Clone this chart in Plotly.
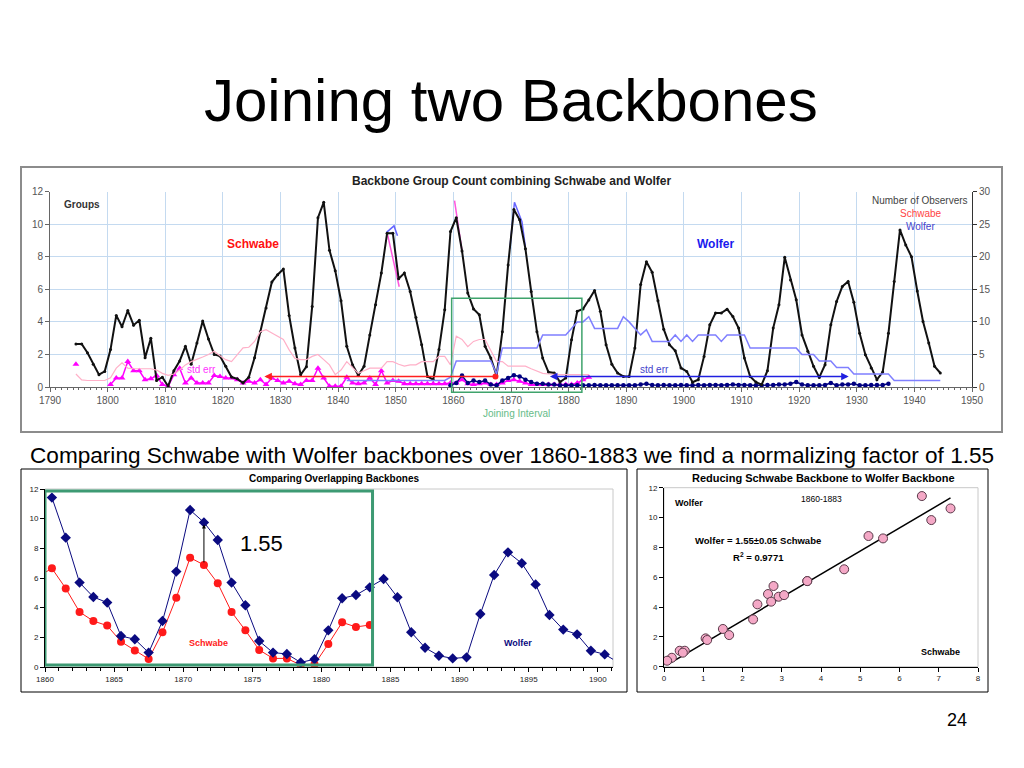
import plotly.graph_objects as go

# page body has an 8px margin; the figure is sized to fit the remaining window
OFF = 8
W, H = 1024 - OFF, 768 - OFF
def fx(p):
    return (p - OFF) / W
def fy(p):
    return 1 - (p - OFF) / H

FONT = "Arial, Liberation Sans, Helvetica, sans-serif"

# ---------------- top chart data ----------------
bb_years = list(range(1794, 1945))
bb_groups = [
    2.64, 2.64, 2.1, 1.4, 0.76, 0.96,
    2.3, 4.4, 3.7, 4.7, 3.8, 4.1, 1.8, 3.0, 0.4, 0.6,
    0.05, 1.0, 1.6, 2.5, 1.4, 2.7, 4.05, 2.95, 2.0, 1.9,
    1.27, 0.61, 0.5, 0.25, 0.6, 1.8, 3.4, 4.85, 6.45, 6.9,
    7.25, 4.4, 2.4, 0.75, 1.25, 4.95, 10.4, 11.35, 8.4, 7.15,
    5.3, 2.5, 1.37, 0.72, 1.27, 3.2, 5.05, 7.0, 9.45, 9.45,
    6.65, 7.0, 5.87, 4.27, 2.6, 0.65, 0.45, 2.3, 4.75, 9.55,
    10.4, 8.36, 5.77, 4.8, 4.44, 2.5, 1.78, 0.7, 3.4, 7.5,
    10.9, 10.27, 8.5, 5.87, 3.4, 1.78, 0.92, 0.86, 0.3, 0.55,
    2.9, 4.65, 4.8, 5.35, 5.93, 4.65, 2.6, 1.4, 0.86, 0.65,
    0.65, 2.4, 6.3, 7.7, 7.05, 5.3, 3.55, 2.6, 2.23, 1.17,
    0.96, 0.29, 0.45, 1.88, 3.82, 4.54, 4.54, 4.78, 4.33, 3.62,
    1.78, 0.65, 0.3, 0.14, 1.0, 3.62, 5.05, 7.97, 6.58, 5.36,
    3.2, 2.19, 1.27, 0.59, 1.37, 3.82, 5.25, 6.18, 6.48, 5.2,
    3.3, 1.98, 1.17, 0.45, 0.92, 3.3, 6.48, 9.65, 8.73, 8.0,
    5.9, 4.03, 2.7, 1.27, 0.86,
]

schwabe_years = list(range(1794, 1884))
schwabe_stderr = [
    1.4, None, None, None, None, None,
    0.15, 0.55, 0.55, 1.57, 1.0, 1.0, 0.45, 0.5, 0.7, 0.15,
    0.04, 0.75, 1.15, 0.25, 0.55, 0.25, 0.25, 0.25, 0.7, 0.65,
    0.55, 0.55, 0.45, 0.25, 0.35, 0.25, 0.45, 0.15, 0.55, 0.4,
    0.25, 0.35, 0.2, 0.15, 0.4, 0.4, 1.15, 0.55, 0.05, 0.05,
    0.05, 0.6, 0.25, 0.2, 0.25, 0.55, 0.15, 1.0, 0.25, 0.4,
    0.35, 0.2, 0.2, 0.2, 0.2, 0.2, 0.2, 0.2, 0.2, 0.25,
    0.25, 0.45, 0.2, 0.15, 0.2, 0.25, 0.15, 0.15, 0.25, 0.4,
    0.45, 0.35, 0.25, 0.15, 0.15, 0.15, 0.15, 0.15, 0.15, 0.15,
    0.15, 0.25, 0.45, 0.6,
]
schwabe_observers = [
    2.0, 1.1, 1.0, 1.0, 1.0, 1.0,
    1.4, 2.9, 3.7, 2.9, 2.8, 2.8, 2.8, 2.8, 2.6, 2.1,
    1.8, 2.0, 2.6, 3.4, 3.9, 4.2, 4.6, 5.0, 5.5, 4.8,
    4.2, 3.9, 5.0, 6.0, 6.1, 7.0, 8.5, 8.8, 8.3, 7.8,
    7.3, 5.7, 4.4, 4.2, 4.2, 4.7, 5.0, 4.2, 3.4, 1.9,
    2.6, 3.9, 3.0, 2.1, 2.5, 2.9, 2.9, 2.9, 3.9, 3.9,
    3.5, 3.2, 3.4, 3.4, 3.9, 3.9, 3.9, 4.7, 4.7, 3.4,
    7.8, 7.3, 6.2, 7.0, 7.3, 7.3, 5.5, 3.9, 3.9, 3.2,
    3.2, 3.2, 3.2, 2.8, 2.4, 2.1, 2.0, 1.9, 1.9, 1.9,
    1.9, 1.9, 1.9, 1.9,
]

wolfer_err_years = list(range(1859, 1936))
wolfer_stderr = [
    0.1, 0.25, 0.7, 0.25, 0.4, 0.3, 0.4, 0.15, 0.1, 0.4, 0.55,
    0.72, 0.65, 0.45, 0.3, 0.2, 0.2, 0.15, 0.15, 0.1, 0.1,
    0.1, 0.1, 0.1, 0.1, 0.12, 0.1, 0.1, 0.1, 0.1, 0.1,
    0.1, 0.1, 0.15, 0.2, 0.12, 0.1, 0.12, 0.1, 0.1, 0.12,
    0.1, 0.1, 0.12, 0.1, 0.12, 0.12, 0.1, 0.12, 0.15, 0.12,
    0.12, 0.1, 0.1, 0.1, 0.12, 0.12, 0.15, 0.15, 0.2, 0.3,
    0.15, 0.1, 0.1, 0.1, 0.12, 0.25, 0.1, 0.15, 0.15, 0.2,
    0.1, 0.1, 0.12, 0.12, 0.12, 0.2,
]

wolfer_obs_years = list(range(1841, 1945))
wolfer_observers = [
    1, 1, 1, 1, 1, 1, 1, 1, 1,
    1, 1, 1, 1, 1, 1, 1, 1, 1, 1.5,
    4, 4, 4, 4, 4, 4, 4, 2, 6, 6,
    6, 6, 6, 6, 6, 8, 8, 8, 8, 8,
    9, 10, 10, 10.8, 9, 9, 9, 9, 9, 10.8,
    10, 9, 8, 8.8, 7, 7, 7, 7, 8, 7,
    8, 7, 8, 8, 8, 8, 7, 8, 8, 8,
    8, 6, 6, 6, 6, 6, 6, 6, 6, 6,
    5, 5, 5, 4, 4, 4, 3, 3, 3, 2,
    2, 2, 2, 2, 2, 2, 1, 1, 1, 1,
    1, 1, 1, 1, 1,
]

# short peak segments of the separate backbones
schwabe_peak_x = [1848.6, 1850.6, None, 1860.2, 1860.6, 1861.5]
schwabe_peak_y = [9.33, 6.16, None, 11.45, 10.5, 8.36]
wolfer_peak_x = [1848.4, 1849.7, 1850.3, None, 1869.8, 1870.6, 1871.9, 1872.5]
wolfer_peak_y = [9.5, 9.9, 9.3, None, 8.5, 11.35, 10.15, 8.6]

schwabe_span = [1827.2, 1867.3]
wolfer_span = [1876.5, 1928.6]
span_level = 0.65
joining_x = [1859.7, 1882.3]
joining_y = [-0.33, 5.46]
top_ymax = 12
top_y2max = 30

# ---------------- bottom-left data ----------------
cmp_w_years = list(range(1860, 1902))
cmp_wolfer = [
    11.42, 8.72, 5.69, 4.72, 4.34, 2.09, 1.87, 0.97, 3.1, 6.43,
    10.58, 9.75, 8.56, 5.69, 4.16, 1.75, 0.97, 0.88, 0.31, 0.52,
    2.47, 4.63, 4.85, 5.37, 5.93, 4.70, 2.34, 1.30, 0.76, 0.58,
    0.65, 3.57, 6.2, 7.73, 6.99, 5.57, 3.51, 2.52, 2.2, 1.1,
    0.85, 0.3,
]
cmp_s_years = list(range(1859, 1884))
cmp_schwabe = [
    6.1, 6.65, 5.3, 3.71, 3.1, 2.79, 1.71, 1.12, 0.54, 2.34, 4.67,
    7.37, 6.88, 5.64, 3.71, 2.47, 1.15, 0.58, 0.58, 0.13, 0.18,
    1.55, 3.01, 2.7, 2.83,
]
overlap_box_x = [1860.0, 1883.7]
overlap_box_y = [0.13, 11.87]
factor_arrow_x = 1871.5
factor_arrow_y = [6.95, 9.6]

# ---------------- bottom-right data ----------------
sc_schwabe = [6.57, 7.3, 6.81, 5.21, 5.58, 4.59, 3.65, 3.65, 2.79, 2.65, 2.92, 3.06,
              2.73, 2.38, 2.27, 1.5, 1.66, 1.06, 1.1, 0.4, 0.53, 0.48, 0.2, 0.08]
sc_wolfer = [11.44, 10.61, 9.83, 8.76, 8.6, 6.53, 5.74, 5.74, 5.41, 4.87, 4.69, 4.8,
             4.36, 4.18, 3.17, 2.53, 2.12, 1.9, 1.79, 1.07, 1.07, 0.94, 0.6, 0.4]
fit_slope = 1.55
fit_x = [0.1, 7.3]

mid = lambda ys: [y + 0.5 for y in ys]

fig = go.Figure()

# ---- top chart traces ----
fig.add_trace(go.Scatter(x=mid(schwabe_years), y=schwabe_observers, xaxis="x", yaxis="y2",
                         mode="lines", line=dict(color="#ffb0c8", width=1.2), hoverinfo="skip"))
fig.add_trace(go.Scatter(x=mid(wolfer_obs_years), y=wolfer_observers, xaxis="x", yaxis="y2",
                         mode="lines", line=dict(color="#7f7fff", width=1.5), hoverinfo="skip"))
fig.add_trace(go.Scatter(x=mid(schwabe_years), y=schwabe_stderr, xaxis="x", yaxis="y",
                         mode="lines+markers", connectgaps=False,
                         line=dict(color="#ff00ff", width=1.5),
                         marker=dict(symbol="triangle-up", size=6, color="#ff00ff")))
fig.add_trace(go.Scatter(x=mid(wolfer_err_years), y=wolfer_stderr, xaxis="x", yaxis="y",
                         mode="lines+markers", line=dict(color="#000080", width=1.5),
                         marker=dict(symbol="circle", size=4.5, color="#000080")))
fig.add_trace(go.Scatter(x=schwabe_peak_x, y=schwabe_peak_y, xaxis="x", yaxis="y",
                         mode="lines", line=dict(color="#ff55dd", width=1.5)))
fig.add_trace(go.Scatter(x=wolfer_peak_x, y=wolfer_peak_y, xaxis="x", yaxis="y",
                         mode="lines", line=dict(color="#6666ff", width=1.5)))
fig.add_trace(go.Scatter(x=mid(bb_years), y=bb_groups, xaxis="x", yaxis="y",
                         mode="lines+markers", line=dict(color="#111111", width=2),
                         marker=dict(symbol="circle", size=3, color="#111111")))
fig.add_trace(go.Scatter(x=[schwabe_span[1]], y=[span_level], xaxis="x", yaxis="y",
                         mode="markers", marker=dict(color="#ff2020", size=6)))

# ---- bottom-left traces ----
fig.add_trace(go.Scatter(x=mid(cmp_s_years), y=cmp_schwabe, xaxis="x3", yaxis="y3",
                         mode="lines+markers", line=dict(color="#ff1a1a", width=1),
                         marker=dict(symbol="circle", size=8, color="#ff1a1a")))
fig.add_trace(go.Scatter(x=mid(cmp_w_years), y=cmp_wolfer, xaxis="x3", yaxis="y3",
                         mode="lines+markers", line=dict(color="#0a0a80", width=1),
                         marker=dict(symbol="diamond", size=8, color="#0a0a80")))

# ---- bottom-right traces ----
fig.add_trace(go.Scatter(x=fit_x, y=[fit_slope * v for v in fit_x], xaxis="x4", yaxis="y4",
                         mode="lines", line=dict(color="#000000", width=1.5)))
fig.add_trace(go.Scatter(x=sc_schwabe, y=sc_wolfer, xaxis="x4", yaxis="y4",
                         mode="markers",
                         marker=dict(symbol="circle", size=9, color="#f4a8c6",
                                     line=dict(color="#5a3a4a", width=1))))

axis_common = dict(showline=True, linecolor="#000000", linewidth=1, zeroline=False,
                   ticks="outside", tickcolor="#000000", automargin=False)

fig.update_layout(
    width=W, height=H, autosize=False,
    margin=dict(l=0, r=0, t=0, b=0, pad=0, autoexpand=False),
    paper_bgcolor="white", plot_bgcolor="white",
    showlegend=False,
    font=dict(family=FONT, color="#000000"),
    xaxis=dict(domain=[fx(50), fx(972)], range=[1790, 1950], anchor="y",
               tick0=1790, dtick=10, ticklen=4, automargin=False,
               showgrid=True, gridcolor="#c4daf0", gridwidth=1,
               showline=True, linecolor="#666666", zeroline=False, ticks="outside",
               tickcolor="#666666",
               tickfont=dict(size=10, color="#555555"),
               minor=dict(tick0=1790, dtick=1, ticks="outside", ticklen=2,
                          tickcolor="#666666", showgrid=False)),
    yaxis=dict(domain=[fy(387), fy(191.7)], range=[0, top_ymax], anchor="x",
               dtick=2, ticklen=4, showgrid=True, gridcolor="#c4daf0", gridwidth=1,
               showline=True, linecolor="#666666", zeroline=False, ticks="outside",
               tickcolor="#666666", automargin=False,
               tickfont=dict(size=10, color="#555555")),
    yaxis2=dict(overlaying="y", side="right", anchor="x", range=[0, top_y2max], dtick=5,
                showgrid=False, showline=True, linecolor="#333333", zeroline=False,
                ticks="outside", ticklen=4, tickcolor="#333333", automargin=False,
                tickfont=dict(size=10, color="#555555")),
    xaxis3=dict(domain=[fx(45), fx(613)], range=[1860, 1901.1], anchor="y3",
                tick0=1860, dtick=5, ticklen=4, showgrid=False,
                tickfont=dict(size=8, color="#222222"),
                minor=dict(tick0=1860, dtick=1, ticks="outside", ticklen=3,
                           tickcolor="#000000"),
                **axis_common),
    yaxis3=dict(domain=[fy(667), fy(489)], range=[0, 12], anchor="x3", dtick=2,
                ticklen=4, showgrid=False, tickfont=dict(size=8, color="#222222"),
                **axis_common),
    xaxis4=dict(domain=[fx(664), fx(978)], range=[0, 8], anchor="y4", dtick=1,
                ticklen=4, showgrid=False, tickfont=dict(size=8, color="#222222"),
                **axis_common),
    yaxis4=dict(domain=[fy(666.7), fy(487.7)], range=[0, 12], anchor="x4", dtick=2,
                ticklen=4, showgrid=False, tickfont=dict(size=8, color="#222222"),
                **axis_common),
)

shapes = []
# chart frames
shapes.append(dict(type="rect", xref="paper", yref="paper", x0=fx(21), x1=fx(1002),
                   y0=fy(432), y1=fy(167), line=dict(color="#8c8c8c", width=2)))
shapes.append(dict(type="rect", xref="paper", yref="paper", x0=fx(21), x1=fx(627),
                   y0=fy(692), y1=fy(469), line=dict(color="#000000", width=1)))
shapes.append(dict(type="rect", xref="paper", yref="paper", x0=fx(637), x1=fx(988),
                   y0=fy(692), y1=fy(469), line=dict(color="#000000", width=1)))
# light plot-area frames of the bottom charts
for ax in ("3", "4"):
    shapes.append(dict(type="rect", xref="x%s domain" % ax, yref="y%s domain" % ax,
                       x0=0, x1=1, y0=0, y1=1, layer="below",
                       line=dict(color="#c8c8c8", width=1)))
# joining interval box (top)
shapes.append(dict(type="rect", xref="x", yref="y domain",
                   x0=joining_x[0], x1=joining_x[1],
                   y0=joining_y[0] / top_ymax, y1=joining_y[1] / top_ymax,
                   line=dict(color="#3fa36c", width=1.5)))
# overlap box (bottom-left)
shapes.append(dict(type="rect", xref="x3", yref="y3",
                   x0=overlap_box_x[0], x1=overlap_box_x[1],
                   y0=overlap_box_y[0], y1=overlap_box_y[1],
                   line=dict(color="#3d9a73", width=3)))
fig.update_layout(shapes=shapes)

ann = []
def txt(text, x, y, xref="paper", yref="paper", size=10, color="#000000", bold=False,
        xanchor="center", yanchor="middle"):
    t = "<b>%s</b>" % text if bold else text
    ann.append(dict(text=t, x=x, y=y, xref=xref, yref=yref, showarrow=False,
                    xanchor=xanchor, yanchor=yanchor,
                    font=dict(family=FONT, size=size, color=color)))

# slide texts
txt("Joining two Backbones", fx(511), fy(100), size=60)
txt("Comparing Schwabe with Wolfer backbones over 1860-1883 we find a normalizing factor of 1.55",
    fx(512), fy(455), size=22.6)
txt("24", fx(957), fy(720), size=18)

# top chart texts
txt("Backbone Group Count combining Schwabe and Wolfer", fx(511), fy(181), size=12,
    bold=True, color="#222222")
txt("Groups", 1792.1, 11.24, "x", "y", size=10, bold=True, color="#333333", xanchor="left")
txt("Schwabe", 1825.2, 8.78, "x", "y", size=12, bold=True, color="#ff1010")
txt("Wolfer", 1905.45, 8.78, "x", "y", size=12, bold=True, color="#1a1aee")
txt("std err", 1816.3, 1.1, "x", "y", size=10, color="#ff33ff")
txt("std err", 1894.9, 1.1, "x", "y", size=10, color="#4444cc")
txt("Number of Observers", 1949.7, 11.48, "x", "y", size=10, color="#444444", xanchor="right")
txt("Schwabe", 1945.2, 10.67, "x", "y", size=10, color="#ff4444", xanchor="right")
txt("Wolfer", 1944.0, 9.89, "x", "y", size=10, color="#4444cc", xanchor="right")
txt("Joining Interval", 1871.0, fy(413), "x", "paper", size=10, color="#66bb88")

# bottom-left texts
txt("Comparing Overlapping Backbones", fx(334), fy(478), size=10, bold=True)
txt("1.55", 1875.7, 8.34, "x3", "y3", size=22)
txt("Schwabe", 1871.8, 1.62, "x3", "y3", size=9, bold=True, color="#ff1a1a")
txt("Wolfer", 1894.2, 1.62, "x3", "y3", size=9, bold=True, color="#0a0a80")

# bottom-right texts
txt("Reducing Schwabe Backbone to Wolfer Backbone", fx(823), fy(478), size=11, bold=True)
txt("Wolfer", 0.23, 11.0, "x4", "y4", size=9, bold=True, xanchor="left")
txt("1860-1883", 4.02, 11.24, "x4", "y4", size=8.5)
txt("Wolfer = 1.55±0.05 Schwabe", 2.39, 8.49, "x4", "y4", size=9.5, bold=True)
txt("R<sup>2</sup> = 0.9771", 2.4, 7.37, "x4", "y4", size=9.5, bold=True)
txt("Schwabe", 7.05, 0.97, "x4", "y4", size=9, bold=True)

# arrows
ann.append(dict(x=schwabe_span[0], y=span_level, ax=schwabe_span[1], ay=span_level,
                xref="x", yref="y", axref="x", ayref="y", text="", showarrow=True,
                arrowhead=2, arrowsize=1, arrowwidth=1.5, arrowcolor="#ff2020"))
ann.append(dict(x=wolfer_span[1], y=span_level, ax=wolfer_span[0], ay=span_level,
                xref="x", yref="y", axref="x", ayref="y", text="", showarrow=True,
                arrowhead=2, startarrowhead=2, arrowside="end+start", arrowsize=1,
                arrowwidth=1.5, arrowcolor="#2020e0"))
ann.append(dict(x=factor_arrow_x, y=factor_arrow_y[1], ax=factor_arrow_x, ay=factor_arrow_y[0],
                xref="x3", yref="y3", axref="x3", ayref="y3", text="", showarrow=True,
                arrowhead=2, arrowsize=0.8, arrowwidth=1, arrowcolor="#000000"))
fig.update_layout(annotations=ann)

fig.write_html("out.html")
